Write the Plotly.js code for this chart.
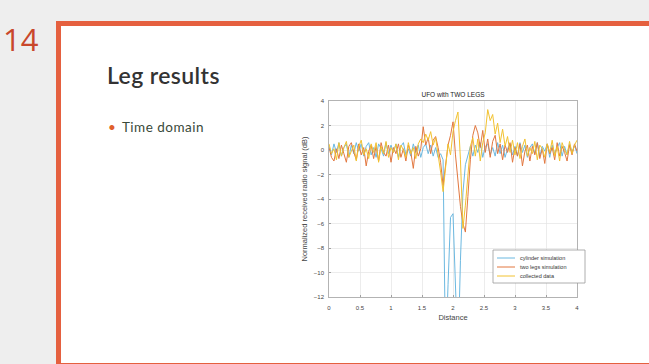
<!DOCTYPE html>
<html><head><meta charset="utf-8">
<script src="https://cdn.plot.ly/plotly-3.0.1.min.js"></script>
<style>
html,body{margin:0;padding:0;width:649px;height:364px;overflow:hidden;background:#eeeeee;}
#num{position:absolute;left:3px;top:21px;font-family:"Open Sans",sans-serif;font-size:31px;color:#c9472b;line-height:36px;}
#slide{position:absolute;left:56px;top:21px;width:620px;height:337px;border:5px solid #e5603f;background:#ffffff;}
#ttl{position:absolute;left:107px;top:60px;font-family:Lato,sans-serif;font-size:23px;font-weight:600;letter-spacing:0.4px;color:#333;line-height:30px;}
#bul{position:absolute;left:108px;top:118px;font-family:Lato,sans-serif;font-size:13.5px;letter-spacing:0.5px;color:#3a4a3a;line-height:18px;}
#bul span{color:#e0602a;margin-right:2px;}
#chart{position:absolute;left:0;top:0;width:649px;height:364px;}
</style></head>
<body>
<div id="num">14</div>
<div id="slide"></div>
<div id="ttl">Leg results</div>
<div id="bul"><span>•</span> Time domain</div>
<div id="chart"></div>
<script>
// x runs from 0 to 4 in steps of 0.04 (101 samples)
const xStart = 0, xStep = 0.04;
const seriesNames = ["cylinder simulation", "two legs simulation", "collected data"];
const cylinderSim = [0.3,-0.4,0.5,-0.2,0.6,-0.5,0.2,0.5,-0.6,0.4,
 -0.3,0.6,-0.1,0.5,-0.5,0.3,0.6,-0.4,0.2,-0.6,
 0.5,0.1,-0.5,0.6,-0.3,0.4,-0.2,0.5,-0.6,0.3,
 0.6,-0.4,0.1,-0.5,0.5,-0.2,0.4,-0.6,0.2,0.5,
 -0.3,0.4,-0.5,0.2,-0.6,-0.3,
 -0.8,-17,-11,-5.5,-5.2,-10,-17,-9,-3.5,-1.2,-0.4,0.3,
 -0.5,0.4,-0.2,0.6,-0.6,0.3,0.5,-0.4,0.2,-0.5,
 0.6,-0.3,0.4,-0.6,0.1,0.5,-0.4,0.3,-0.5,0.6,
 -0.2,0.4,-0.6,0.2,0.5,-0.3,0.6,-0.5,0.3,-0.1,
 0.5,-0.6,0.4,-0.3,0.2,0.6,-0.5,0.3,-0.4,0.5,
 -0.2,0.4,-0.3];
const twoLegsSim = [0.2,-0.6,-0.9,0.1,-0.7,0.4,-0.3,-1.0,0.3,0.6,
 -0.2,-0.8,0.5,-0.4,0.2,-1.3,-0.1,0.4,-0.7,0.3,
 -0.9,0.6,-0.2,-0.5,0.4,-1.0,0.2,-0.3,0.5,-0.6,
 0.1,-0.9,0.4,-0.2,-1.5,0.3,-0.5,0.1,
 1.9,0.4,1.0,-0.3,0.8,1.1,0.2,-1.0,-2.9,-1.3,
 0.4,1.2,2.3,-0.4,-2.5,-4.6,-6.0,-6.7,-3.8,-0.8,
 1.2,2.0,1.4,0.2,1.6,-0.2,0.9,-0.6,0.7,1.2,
 -0.3,0.5,
 -0.8,0.4,-0.2,0.6,-1.0,0.2,-0.5,0.5,-1.3,-0.1,
 0.4,-0.9,0.3,-0.4,0.6,-0.7,0.1,-1.1,0.5,-0.3,
 0.2,-0.8,0.6,-0.5,0.3,-0.2,-0.9,0.4,-0.4,0.5,
 -0.1];
const collectedData = [0.5,-0.3,0.1,-0.8,0.6,-0.5,0.2,0.7,-0.6,-0.1,
 0.4,-0.9,0.3,0.8,-0.4,0.1,-0.7,0.5,-0.2,0.6,
 -1.0,0.3,-0.3,0.7,-0.6,0.2,-0.2,0.5,-0.8,0.4,
 0.0,-0.6,0.6,-0.3,0.2,-0.7,0.5,0.9,
 0.6,1.3,0.8,1.5,0.4,1.0,-0.3,-1.8,-3.4,-1.6,
 0.5,-0.4,1.5,2.4,3.1,-0.8,-6.4,-4.5,-1.8,0.3,
 1.0,-0.5,0.9,-0.9,0.6,1.4,3.3,2.4,2.9,1.3,
 2.2,0.6,1.7,0.3,1.1,-0.2,0.8,
 -0.4,0.6,-0.7,0.3,0.9,-0.5,0.2,-0.3,0.7,-0.8,
 0.4,0.1,-0.6,0.5,-0.2,0.8,-0.5,0.3,-0.9,0.6,
 0.0,-0.4,0.7,-0.3,0.4,0.8];
const xTicks = [0,0.5,1,1.5,2,2.5,3,3.5,4];
const xTickLabels = ["0","0.5","1","1.5","2","2.5","3","3.5","4"];
const yTicks = [4,2,0,-2,-4,-6,-8,-10,-12];
const colors = ["#6bb8e0","#e2773f","#f2c230"];
const allSeries = [cylinderSim, twoLegsSim, collectedData];

const traces = allSeries.map((ys, k) => ({
  type: "scatter", mode: "lines", x0: xStart, dx: xStep, y: ys,
  name: seriesNames[k], line: {color: colors[k], width: 1}, showlegend: false,
  hoverinfo: "skip"
}));

// plot area: x 329..577, y 101..297
const L = 329, R = 577, T = 101, B = 297, W = 649, H = 364;
const px = v => (v - L) / (R - L);
const py = v => (B - v) / (B - T);
const shapes = [{type:"rect", xref:"paper", yref:"paper", x0:px(493), x1:px(585), y0:py(283), y1:py(250),
  line:{color:"#9a9a9a", width:0.8}, fillcolor:"#ffffff", layer:"above"}];
const annotations = [];
const rows = [258, 267, 276];
seriesNames.forEach((n, k) => {
  shapes.push({type:"line", xref:"paper", yref:"paper", x0:px(497), x1:px(515), y0:py(rows[k]), y1:py(rows[k]),
    line:{color:colors[k], width:1}, layer:"above"});
  annotations.push({xref:"paper", yref:"paper", x:px(518), y:py(rows[k]), text:n, showarrow:false,
    xanchor:"left", yanchor:"middle", font:{size:5.5, color:"#333", family:"Liberation Sans, Arial, sans-serif"}});
});

const layout = {
  width: W, height: H,
  margin: {l: L, r: W - R, t: T, b: H - B, pad: 0},
  paper_bgcolor: "rgba(0,0,0,0)", plot_bgcolor: "#ffffff",
  font: {family: "Liberation Sans, Arial, sans-serif", size: 6, color: "#444"},
  title: {text: "UFO with TWO LEGS", x: 0.5, xref: "paper", y: 1 - 95 / H, yanchor: "middle",
          font: {size: 6.5, color: "#222"}},
  xaxis: {range: [0, 4], tickvals: xTicks, ticktext: xTickLabels, showgrid: true, gridcolor: "#e4e4e4",
          gridwidth: 0.7, zeroline: false, showline: true, linecolor: "#a0a0a0", linewidth: 0.8, mirror: true,
          ticks: "inside", ticklen: 2, tickcolor: "#a0a0a0", ticklabelstandoff: 5,
          title: {text: "Distance", font: {size: 7.5, color: "#444"}, standoff: 4}},
  yaxis: {range: [-12, 4], tickvals: yTicks, showgrid: true, gridcolor: "#e4e4e4", gridwidth: 0.7,
          zeroline: false, showline: true, linecolor: "#a0a0a0", linewidth: 0.8, mirror: true,
          ticks: "inside", ticklen: 2, tickcolor: "#a0a0a0", ticklabelstandoff: 3,
          title: {text: "Normalized received radio signal (dB)", font: {size: 7.5, color: "#444"}, standoff: 5}},
  shapes: shapes, annotations: annotations, showlegend: false
};
Plotly.newPlot("chart", traces, layout, {staticPlot: true, displayModeBar: false});
</script>
</body></html>
